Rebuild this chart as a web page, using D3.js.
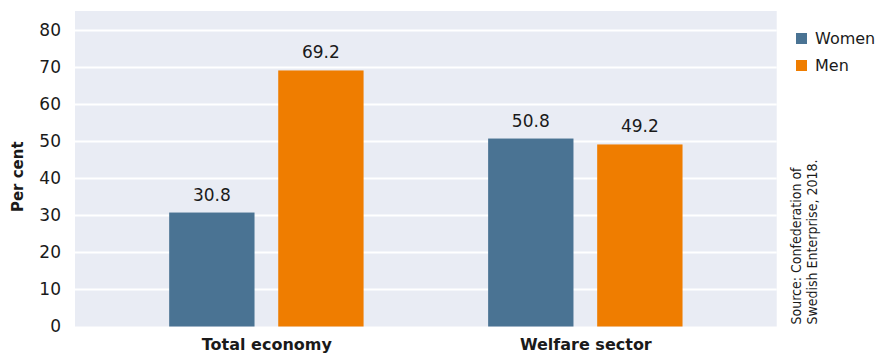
<!DOCTYPE html>
<html><head><meta charset="utf-8">
<script src="https://cdn.jsdelivr.net/npm/d3@7"></script>
<style>body{margin:0;background:#fff}svg{display:block}text{font-family:"DejaVu Sans",sans-serif;fill:#1a1a1a}</style>
</head><body>
<svg id="c" width="877" height="358"></svg>
<script>
const categories = ["Total economy", "Welfare sector"];
const seriesNames = ["Women", "Men"];
const women = [30.8, 50.8];
const men = [69.2, 49.2];
const yTicks = [0, 10, 20, 30, 40, 50, 60, 70, 80];
const colors = ["#4a7393", "#ef7d00"];
const sourceLines = ["Source: Confederation of", "Swedish Enterprise, 2018."];

const svg = d3.select("#c");
const L = 75, R = 776.7, T = 11, B = 326.5;
const y = d3.scaleLinear().domain([0, 85.27]).range([B, T]);
const x = d3.scalePoint().domain(categories).range([L, R]).padding(0.6);
const sub = d3.scaleBand().domain(seriesNames).range([-97.2, 97.2]).paddingInner(0.2174);

svg.append("rect").attr("x", L).attr("y", T).attr("width", R - L).attr("height", B - T).attr("fill", "#e9ecf4");

svg.append("g").selectAll("line").data(yTicks.filter(d => d > 0)).join("line")
  .attr("x1", L).attr("x2", R).attr("y1", d => y(d)).attr("y2", d => y(d))
  .attr("stroke", "#fff").attr("stroke-width", 2.2);

const yAxis = svg.append("g").attr("transform", `translate(${L},0)`)
  .call(d3.axisLeft(y).tickValues(yTicks).tickSize(0).tickPadding(14));
yAxis.select(".domain").remove();
yAxis.selectAll("text").style("font-size", "17px").style("font-family", "DejaVu Sans").attr("fill", "#1a1a1a");

const data = categories.map((c, i) => ({c, vals: [women[i], men[i]]}));
const g = svg.append("g");
data.forEach(d => {
  d.vals.forEach((v, j) => {
    const cx = x(d.c) + sub(seriesNames[j]);
    g.append("rect").attr("x", cx).attr("width", sub.bandwidth())
      .attr("y", y(v)).attr("height", y(0) - y(v)).attr("fill", colors[j]);
    g.append("text").attr("x", cx + sub.bandwidth() / 2).attr("y", y(v) - 12)
      .attr("text-anchor", "middle").style("font-size", "17px").text(v.toFixed(1));
  });
});

const xAxis = svg.append("g").attr("transform", `translate(0,${B})`)
  .call(d3.axisBottom(x).tickSize(0).tickPadding(12));
xAxis.select(".domain").remove();
xAxis.selectAll("text").style("font-size", "16px").style("font-weight", "bold").style("font-family", "DejaVu Sans").attr("fill", "#1a1a1a");

svg.append("text").attr("transform", `translate(23,${(T + B) / 2 + 8}) rotate(-90)`)
  .attr("text-anchor", "middle").style("font-size", "15px").style("font-weight", "bold").text("Per cent");

const leg = svg.append("g").attr("transform", "translate(796,0)");
seriesNames.forEach((s, i) => {
  leg.append("rect").attr("x", 0).attr("y", 33 + i * 27).attr("width", 11).attr("height", 11).attr("fill", colors[i]);
  leg.append("text").attr("x", 19).attr("y", 44 + i * 27).style("font-size", "16px").text(s);
});

sourceLines.forEach((t, i) => {
  svg.append("text").attr("transform", `translate(${801 + i * 16},${B - 2}) rotate(-90)`)
    .style("font-size", "14px").style("font-family", "Liberation Sans Narrow, DejaVu Sans Condensed, sans-serif").text(t);
});
</script>
</body></html>
